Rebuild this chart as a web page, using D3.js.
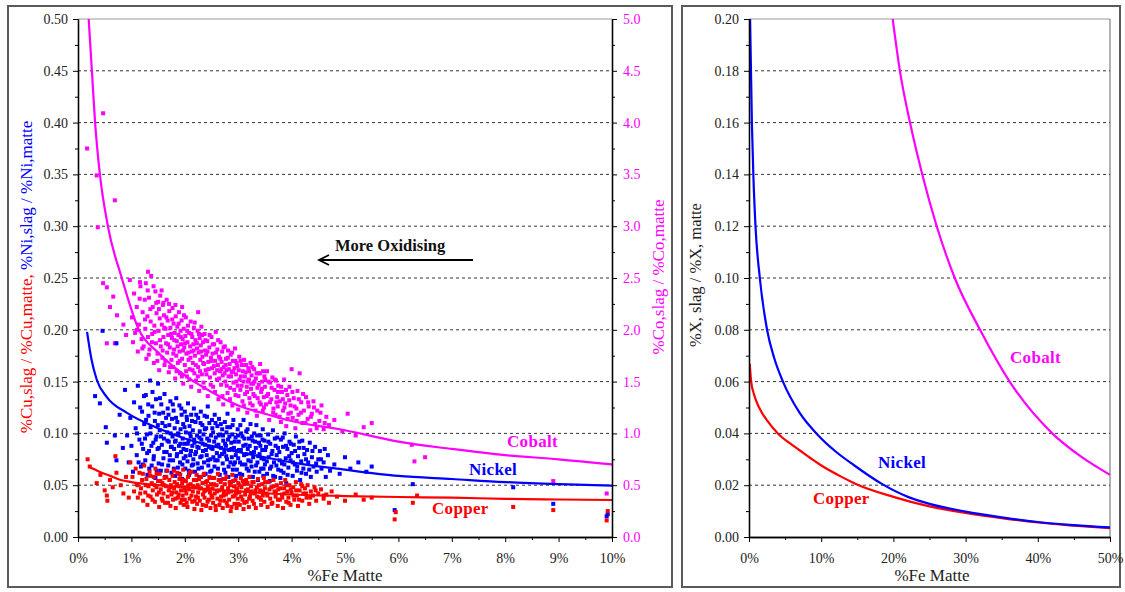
<!DOCTYPE html>
<html><head><meta charset="utf-8">
<script src="https://cdn.jsdelivr.net/npm/d3@7"></script>
<style>
body{margin:0;background:#fff}
svg{display:block}
svg text{font-family:"Liberation Serif","Times New Roman",Tinos,"DejaVu Serif","Noto Serif",serif !important}
</style>
</head><body><svg id="c" width="1125" height="592"></svg>
<script>
// ---------- DATA ----------
const leftYTicks = [0,0.05,0.10,0.15,0.20,0.25,0.30,0.35,0.40,0.45,0.50];
const leftY2Ticks = [0,0.5,1.0,1.5,2.0,2.5,3.0,3.5,4.0,4.5,5.0];
const leftXTicks = [0,1,2,3,4,5,6,7,8,9,10];
const rightYTicks = [0,0.02,0.04,0.06,0.08,0.10,0.12,0.14,0.16,0.18,0.20];
const rightXTicks = [0,10,20,30,40,50];

// left panel model curves (%Fe matte, ratio)
const cuLine = [[0.2,0.068],[0.4,0.063],[0.6,0.059],[0.8,0.055],[1,0.053],[1.5,0.050],[2,0.048],[2.5,0.046],[3,0.044],[4,0.041],[5,0.0395],[6,0.0386],[7,0.038],[8,0.0368],[9,0.0362],[10,0.0357]];
const niLine = [[0.17,0.198],[0.25,0.172],[0.35,0.152],[0.54,0.135],[0.91,0.12],[1.5,0.105],[2,0.095],[2.5,0.088],[3,0.082],[3.5,0.077],[4,0.072],[5,0.065],[6,0.059],[7,0.056],[8,0.053],[9,0.051],[10,0.0495]];
const coLine = [[0.2,5.0],[0.26,4.5],[0.32,4.0],[0.41,3.5],[0.56,3.0],[0.82,2.5],[1.14,2.0],[1.5,1.78],[2,1.56],[2.5,1.4],[3,1.27],[3.5,1.19],[4,1.12],[5,1.03],[6,0.92],[7,0.85],[8,0.79],[9,0.75],[10,0.70]];

// right panel model curves
const cuLineR = [[0.1,0.067],[0.3,0.060],[0.7,0.055],[1.4,0.050],[2.5,0.045],[4,0.040],[5.5,0.0365],[7,0.0335],[8.5,0.0305],[9.8,0.028],[12.5,0.0237],[14.8,0.0205],[20,0.0155],[25,0.0118],[30,0.0093],[35,0.0073],[40,0.0056],[45,0.0044],[50,0.0034]];
const niLineR = [[0.15,0.20],[0.4,0.16],[0.6,0.14],[0.9,0.12],[1.5,0.10],[2.5,0.08],[3.5,0.069],[4.7,0.06],[7,0.048],[9.5,0.0395],[12,0.033],[14.5,0.0278],[18.4,0.0205],[22,0.0155],[25,0.0128],[30,0.0098],[35,0.0076],[40,0.0058],[45,0.0046],[50,0.0037]];
const coLineR = [[19.9,0.20],[20.9,0.18],[22.3,0.16],[24.0,0.14],[26.0,0.12],[28.5,0.10],[32.0,0.08],[36.1,0.06],[42,0.04],[46,0.031],[50,0.024]];

// measured points (%Fe matte, ratio)
const cuPts = [[0.18,0.075],[0.22,0.068],[0.35,0.052],[0.42,0.060],[0.5,0.045],[0.54,0.040],[0.55,0.035],[0.6,0.055],[0.65,0.048],[0.7,0.078],[0.72,0.062],[0.8,0.05],[0.85,0.042],[0.9,0.058],[0.95,0.038],[0.98,0.072],
[1.02,0.058],[1.05,0.044],[1.08,0.066],[1.1,0.051],[1.12,0.038],[1.15,0.062],[1.18,0.047],[1.2,0.055],[1.22,0.035],[1.24,0.069],
[1.26,0.043],[1.28,0.056],[1.3,0.031],[1.32,0.049],[1.34,0.063],[1.36,0.039],[1.38,0.052],[1.4,0.045],[1.42,0.058],[1.44,0.034],[1.45,0.066],[1.47,0.048],[1.48,0.041],[1.5,0.054],
[1.52,0.029],[1.53,0.061],[1.55,0.046],[1.57,0.037],[1.58,0.052],[1.6,0.042],[1.62,0.057],[1.63,0.033],[1.65,0.049],[1.67,0.064],[1.68,0.039],[1.7,0.045],[1.71,0.055],[1.73,0.03],[1.74,0.05],[1.75,0.041],
[1.77,0.059],[1.78,0.036],[1.8,0.047],[1.81,0.053],[1.83,0.028],[1.84,0.043],[1.86,0.062],[1.87,0.038],[1.89,0.049],[1.9,0.056],[1.92,0.033],[1.93,0.045],[1.95,0.052],[1.96,0.04],[1.97,0.065],[1.98,0.031],[1.99,0.048],[2.0,0.036],
[2.02,0.054],[2.03,0.042],[2.05,0.029],[2.06,0.058],[2.08,0.046],[2.09,0.037],[2.11,0.051],[2.12,0.063],[2.14,0.034],[2.15,0.044],[2.17,0.055],[2.18,0.027],[2.2,0.048],[2.21,0.039],[2.22,0.06],[2.23,0.032],[2.24,0.05],[2.25,0.043],
[2.27,0.056],[2.28,0.035],[2.3,0.047],[2.31,0.026],[2.33,0.052],[2.34,0.041],[2.36,0.061],[2.37,0.038],[2.39,0.045],[2.4,0.03],[2.42,0.054],[2.43,0.049],[2.45,0.036],[2.46,0.058],[2.47,0.043],[2.48,0.028],[2.49,0.051],[2.5,0.04],
[2.52,0.047],[2.53,0.033],[2.55,0.057],[2.56,0.042],[2.58,0.026],[2.59,0.05],[2.61,0.037],[2.62,0.061],[2.64,0.045],[2.65,0.031],[2.67,0.053],[2.68,0.039],[2.7,0.048],[2.71,0.028],[2.72,0.056],[2.73,0.043],[2.74,0.035],[2.75,0.051],
[2.77,0.041],[2.78,0.058],[2.8,0.03],[2.81,0.047],[2.83,0.036],[2.84,0.053],[2.86,0.025],[2.87,0.044],[2.89,0.06],[2.9,0.039],[2.92,0.049],[2.93,0.032],[2.95,0.055],[2.96,0.042],[2.97,0.028],[2.98,0.046],[2.99,0.037],[3.0,0.052],
[3.02,0.043],[3.03,0.031],[3.05,0.057],[3.06,0.048],[3.08,0.036],[3.1,0.027],[3.11,0.051],[3.13,0.041],[3.15,0.055],[3.16,0.034],[3.18,0.046],[3.2,0.029],[3.21,0.058],[3.22,0.039],[3.24,0.049],[3.25,0.044],
[3.27,0.035],[3.29,0.053],[3.31,0.042],[3.33,0.028],[3.35,0.048],[3.37,0.056],[3.39,0.038],[3.41,0.045],[3.43,0.031],[3.45,0.051],[3.46,0.04],[3.48,0.057],[3.49,0.034],[3.5,0.047],
[3.53,0.042],[3.55,0.029],[3.57,0.053],[3.6,0.037],[3.62,0.048],[3.64,0.033],[3.66,0.055],[3.68,0.044],[3.7,0.039],[3.72,0.05],[3.74,0.03],[3.75,0.046],
[3.78,0.036],[3.8,0.052],[3.82,0.041],[3.84,0.028],[3.86,0.047],[3.88,0.055],[3.9,0.034],[3.92,0.044],[3.94,0.038],[3.96,0.05],[3.98,0.031],[4.0,0.043],
[4.03,0.048],[4.05,0.036],[4.08,0.053],[4.1,0.04],[4.12,0.03],[4.15,0.045],[4.18,0.051],[4.2,0.035],[4.22,0.042],[4.25,0.047],
[4.28,0.038],[4.3,0.05],[4.33,0.032],[4.36,0.044],[4.4,0.04],[4.43,0.048],[4.46,0.035],[4.5,0.042],
[4.55,0.046],[4.6,0.037],[4.65,0.041],[4.7,0.033],[4.75,0.044],
[4.85,0.039],[5.0,0.035],[5.2,0.041],[5.35,0.036],[5.5,0.038],[5.93,0.017],[5.95,0.024],[6.27,0.033],[6.35,0.04],[8.15,0.029],[8.9,0.026],[9.9,0.016],[9.92,0.025]];
const cuPtsB = [[1.115,0.05],[1.165,0.042],[1.215,0.061],[1.265,0.05],[1.315,0.04],[1.355,0.059],[1.395,0.036],[1.435,0.05],[1.475,0.061],[1.515,0.043],[1.545,0.054],[1.585,0.035],[1.615,0.05],[1.655,0.058],[1.685,0.033],[1.725,0.048],[1.765,0.043],[1.795,0.064],[1.825,0.037],[1.855,0.051],[1.885,0.041],[1.915,0.06],[1.945,0.036],[1.975,0.055],[2.005,0.045],[2.035,0.033],[2.065,0.05],[2.095,0.062],[2.125,0.04],[2.155,0.049],[2.185,0.035],[2.215,0.055],[2.245,0.038],[2.275,0.047],[2.305,0.058],[2.335,0.031],[2.365,0.044],[2.395,0.053],[2.425,0.034],[2.455,0.046],[2.485,0.057],[2.515,0.038],[2.545,0.051],[2.575,0.03],[2.605,0.044],[2.635,0.055],[2.665,0.035],[2.695,0.046],[2.725,0.04],[2.755,0.056],[2.785,0.033],[2.815,0.043],[2.845,0.05],[2.875,0.029],[2.905,0.054],[2.935,0.04],[2.965,0.047],[2.995,0.032],[3.025,0.05],[3.055,0.039],[3.085,0.054],[3.115,0.033],[3.145,0.045],[3.175,0.052],[3.205,0.037],[3.235,0.042],[3.265,0.053],[3.295,0.032],[3.325,0.045],[3.355,0.039],[3.385,0.05],[3.425,0.036],[3.465,0.044],[3.505,0.053],[3.545,0.04],[3.585,0.046],[3.625,0.032],[3.665,0.049],[3.705,0.043],[3.745,0.036],[3.785,0.047],[3.825,0.038],[3.865,0.042],[3.905,0.05],[3.945,0.033],[3.985,0.046],[4.035,0.04],[4.085,0.045],[4.14,0.036],[4.2,0.049],[4.27,0.042],[4.35,0.038],[4.45,0.045],[4.6,0.04]];

const niPts = [[0.32,0.136],[0.41,0.129],[0.46,0.199],[0.52,0.106],[0.54,0.091],[0.69,0.098],[0.72,0.074],[0.72,0.187],[0.78,0.118],[0.84,0.086],[0.88,0.142],
[0.92,0.098],[0.95,0.072],[0.98,0.115],[1.0,0.088],[1.03,0.063],[1.05,0.13],[1.08,0.105],[1.1,0.079],[1.12,0.146],[1.15,0.094],[1.18,0.068],[1.2,0.121],[1.22,0.085],[1.24,0.109],
[1.26,0.074],[1.27,0.137],[1.29,0.099],[1.3,0.06],[1.32,0.117],[1.33,0.083],[1.35,0.151],[1.36,0.106],[1.38,0.069],[1.39,0.126],[1.41,0.091],[1.42,0.078],[1.44,0.112],[1.45,0.057],[1.46,0.133],[1.47,0.097],[1.49,0.085],[1.5,0.148],
[1.51,0.071],[1.52,0.119],[1.53,0.103],[1.55,0.064],[1.56,0.128],[1.57,0.089],[1.58,0.11],[1.6,0.076],[1.61,0.095],[1.62,0.138],[1.63,0.058],[1.65,0.115],[1.66,0.082],[1.67,0.101],[1.68,0.124],[1.69,0.069],[1.7,0.092],[1.71,0.108],[1.72,0.079],[1.73,0.131],[1.74,0.087],[1.75,0.062],
[1.76,0.114],[1.77,0.097],[1.78,0.074],[1.79,0.122],[1.8,0.085],[1.81,0.105],[1.82,0.059],[1.83,0.093],[1.84,0.134],[1.85,0.078],[1.86,0.111],[1.87,0.067],[1.88,0.099],[1.89,0.088],[1.9,0.127],[1.91,0.072],[1.92,0.104],[1.93,0.082],[1.94,0.118],[1.95,0.056],[1.96,0.095],[1.97,0.109],[1.98,0.076],[1.99,0.09],
[2.0,0.121],[2.01,0.066],[2.02,0.101],[2.03,0.084],[2.04,0.113],[2.05,0.073],[2.06,0.129],[2.07,0.093],[2.08,0.06],[2.09,0.107],[2.1,0.079],[2.11,0.097],[2.12,0.118],[2.13,0.069],[2.14,0.088],[2.15,0.103],[2.16,0.075],[2.17,0.124],[2.18,0.091],[2.19,0.063],[2.2,0.111],[2.21,0.082],[2.23,0.098],[2.24,0.071],
[2.25,0.115],[2.26,0.086],[2.27,0.058],[2.28,0.102],[2.29,0.077],[2.3,0.121],[2.31,0.094],[2.32,0.067],[2.33,0.108],[2.34,0.083],[2.35,0.099],[2.36,0.072],[2.37,0.117],[2.38,0.089],[2.39,0.061],[2.4,0.105],[2.41,0.079],[2.42,0.095],[2.43,0.126],[2.44,0.069],[2.45,0.087],[2.46,0.11],[2.48,0.075],[2.49,0.098],
[2.5,0.064],[2.51,0.113],[2.52,0.085],[2.53,0.101],[2.54,0.057],[2.55,0.092],[2.56,0.118],[2.57,0.074],[2.58,0.096],[2.6,0.081],[2.61,0.107],[2.62,0.066],[2.63,0.089],[2.64,0.114],[2.65,0.078],[2.66,0.099],[2.67,0.055],[2.68,0.086],[2.7,0.104],[2.71,0.071],[2.72,0.093],[2.74,0.082],
[2.75,0.111],[2.76,0.062],[2.77,0.088],[2.78,0.101],[2.79,0.075],[2.8,0.119],[2.81,0.094],[2.82,0.068],[2.83,0.084],[2.85,0.106],[2.86,0.053],[2.87,0.091],[2.88,0.077],[2.89,0.099],[2.9,0.065],[2.91,0.113],[2.92,0.086],[2.94,0.072],[2.95,0.096],[2.96,0.059],[2.98,0.083],[2.99,0.104],
[3.0,0.076],[3.01,0.092],[3.03,0.061],[3.04,0.108],[3.05,0.084],[3.07,0.07],[3.08,0.097],[3.1,0.113],[3.11,0.079],[3.12,0.054],[3.14,0.089],[3.15,0.102],[3.16,0.066],[3.18,0.085],[3.19,0.074],[3.2,0.095],[3.22,0.058],[3.23,0.109],[3.24,0.081],[3.25,0.068],
[3.27,0.093],[3.28,0.077],[3.3,0.1],[3.31,0.063],[3.33,0.086],[3.34,0.108],[3.36,0.072],[3.37,0.055],[3.39,0.091],[3.4,0.08],[3.42,0.098],[3.43,0.066],[3.45,0.084],[3.46,0.104],[3.47,0.059],[3.48,0.075],[3.49,0.093],[3.5,0.07],
[3.52,0.087],[3.54,0.061],[3.56,0.099],[3.57,0.077],[3.59,0.054],[3.6,0.09],[3.62,0.068],[3.64,0.083],[3.65,0.103],[3.67,0.072],[3.69,0.058],[3.7,0.088],[3.72,0.079],[3.73,0.096],[3.75,0.065],
[3.77,0.082],[3.79,0.057],[3.8,0.094],[3.82,0.071],[3.84,0.087],[3.85,0.062],[3.87,0.1],[3.89,0.076],[3.9,0.052],[3.92,0.085],[3.94,0.067],[3.96,0.092],[3.98,0.074],[4.0,0.081],
[4.02,0.059],[4.04,0.089],[4.06,0.07],[4.08,0.097],[4.1,0.064],[4.12,0.078],[4.14,0.086],[4.16,0.055],[4.18,0.073],[4.2,0.093],[4.22,0.066],[4.24,0.08],
[4.27,0.061],[4.29,0.084],[4.31,0.072],[4.34,0.091],[4.36,0.058],[4.38,0.077],[4.41,0.068],[4.44,0.087],[4.47,0.063],[4.5,0.075],
[4.53,0.083],[4.56,0.066],[4.6,0.072],[4.64,0.058],[4.68,0.079],[4.72,0.064],
[4.8,0.07],[4.9,0.061],[5.0,0.077],[5.1,0.066],[5.25,0.072],[5.4,0.063],[5.5,0.068],[5.93,0.026],[6.27,0.051],[8.15,0.048],[8.9,0.032],[9.9,0.020],[9.92,0.022]];
const niPtsB = [[1.105,0.1],[1.135,0.072],[1.165,0.125],[1.195,0.09],[1.215,0.07],[1.235,0.136],[1.255,0.095],[1.275,0.113],[1.295,0.081],[1.315,0.128],[1.335,0.066],[1.355,0.1],[1.375,0.088],[1.395,0.14],[1.415,0.075],[1.435,0.12],[1.455,0.094],[1.475,0.064],[1.495,0.108],[1.515,0.086],[1.535,0.134],[1.555,0.097],[1.575,0.07],[1.595,0.12],[1.615,0.082],[1.635,0.107],[1.655,0.064],[1.675,0.093],[1.695,0.118],[1.715,0.074],[1.735,0.1],[1.755,0.087],[1.775,0.128],[1.795,0.066],[1.815,0.092],[1.835,0.115],[1.855,0.08],[1.875,0.1],[1.895,0.061],[1.915,0.09],[1.935,0.124],[1.955,0.07],[1.975,0.085],[1.995,0.106],[2.015,0.078],[2.035,0.116],[2.055,0.09],[2.075,0.064],[2.095,0.1],[2.115,0.083],[2.135,0.112],[2.155,0.07],[2.175,0.094],[2.195,0.08],[2.215,0.118],[2.235,0.087],[2.255,0.066],[2.275,0.096],[2.295,0.11],[2.315,0.078],[2.335,0.09],[2.355,0.06],[2.375,0.104],[2.395,0.084],[2.415,0.116],[2.435,0.074],[2.455,0.093],[2.475,0.063],[2.495,0.086],[2.515,0.105],[2.535,0.077],[2.555,0.068],[2.575,0.11],[2.595,0.088],[2.615,0.074],[2.635,0.098],[2.655,0.06],[2.675,0.109],[2.695,0.08],[2.715,0.098],[2.735,0.065],[2.755,0.09],[2.775,0.078],[2.795,0.106],[2.815,0.058],[2.835,0.097],[2.855,0.072],[2.875,0.085],[2.895,0.108],[2.915,0.07],[2.935,0.092],[2.955,0.079],[2.975,0.065],[2.995,0.098],[3.015,0.084],[3.035,0.072],[3.055,0.1],[3.075,0.06],[3.095,0.088],[3.115,0.095],[3.135,0.07],[3.155,0.08],[3.175,0.104],[3.195,0.064],[3.215,0.088],[3.235,0.073],[3.255,0.097],[3.275,0.058],[3.295,0.082],[3.315,0.092],[3.335,0.069],[3.355,0.098],[3.375,0.078],[3.395,0.063],[3.415,0.088],[3.435,0.076],[3.455,0.094],[3.475,0.066],[3.505,0.084],[3.535,0.073],[3.565,0.092],[3.595,0.066],[3.625,0.08],[3.655,0.059],[3.685,0.095],[3.715,0.069],[3.745,0.086],[3.775,0.074],[3.805,0.064],[3.835,0.096],[3.865,0.07],[3.895,0.088],[3.925,0.06],[3.955,0.078],[3.985,0.09],[4.025,0.072],[4.065,0.083],[4.105,0.068],[4.145,0.092],[4.185,0.062],[4.225,0.086],[4.27,0.075],[4.33,0.065],[4.39,0.083],[4.46,0.071],[4.55,0.075],[4.62,0.085]];

// cobalt points on secondary axis (0-5)
const coPts = [[0.17,3.75],[0.47,4.09],[0.35,3.49],[0.69,3.25],[0.37,2.99],[0.47,2.45],[0.54,2.41],[0.66,2.32],[0.6,2.22],[0.73,2.14],[0.54,1.87],[0.69,1.87],[0.97,2.48],[1.16,2.46],[1.31,2.56],[1.6,2.26],[1.95,2.22],[2.25,2.17],[0.85,2.05],[0.9,1.95],
[1.01,2.12],[1.03,1.88],[1.05,2.35],[1.07,1.97],[1.1,2.22],[1.12,1.79],[1.14,2.05],[1.17,2.42],[1.19,1.91],[1.21,2.17],[1.23,1.84],[1.25,2.29],
[1.26,2.01],[1.27,2.45],[1.28,1.72],[1.3,2.13],[1.31,1.93],[1.33,2.31],[1.34,1.81],[1.36,2.08],[1.37,2.52],[1.39,1.96],[1.4,2.22],[1.42,1.68],[1.43,2.04],[1.45,2.37],[1.46,1.87],[1.47,2.16],[1.49,1.77],[1.5,2.27],
[1.51,1.99],[1.52,1.61],[1.53,2.11],[1.54,2.33],[1.55,1.84],[1.57,2.05],[1.58,1.73],[1.59,2.24],[1.6,1.93],[1.61,2.14],[1.62,1.66],[1.64,2.01],[1.65,1.87],[1.66,2.29],[1.67,1.78],[1.68,2.09],[1.69,1.95],[1.7,1.59],[1.71,2.18],[1.72,1.83],[1.73,2.02],[1.75,1.71],
[1.76,1.92],[1.77,2.21],[1.78,1.64],[1.79,2.06],[1.8,1.81],[1.81,1.97],[1.82,1.53],[1.83,2.13],[1.84,1.75],[1.85,1.89],[1.86,2.03],[1.87,1.68],[1.88,1.95],[1.89,2.17],[1.9,1.79],[1.91,1.58],[1.92,1.99],[1.93,1.86],[1.94,2.09],[1.95,1.72],[1.96,1.91],[1.97,1.48],[1.98,2.01],[1.99,1.83],
[2.0,1.66],[2.01,1.94],[2.02,2.12],[2.03,1.77],[2.04,1.55],[2.05,1.88],[2.06,2.04],[2.07,1.71],[2.08,1.97],[2.09,1.62],[2.1,1.84],[2.11,2.08],[2.12,1.45],[2.13,1.79],[2.14,1.93],[2.15,1.68],[2.16,1.86],[2.17,2.02],[2.18,1.58],[2.19,1.75],[2.2,1.9],[2.21,1.51],[2.23,1.82],[2.24,1.99],
[2.25,1.64],[2.26,1.78],[2.27,1.41],[2.28,1.92],[2.29,1.71],[2.3,1.85],[2.31,2.03],[2.32,1.57],[2.33,1.74],[2.34,1.88],[2.35,1.49],[2.36,1.67],[2.37,1.96],[2.38,1.8],[2.39,1.61],[2.4,1.76],[2.42,1.89],[2.43,1.36],[2.44,1.69],[2.46,1.83],[2.47,1.54],[2.49,1.73],
[2.5,1.93],[2.51,1.63],[2.52,1.77],[2.53,1.45],[2.55,1.86],[2.56,1.58],[2.57,1.7],[2.58,1.98],[2.6,1.52],[2.61,1.81],[2.62,1.66],[2.63,1.33],[2.64,1.74],[2.66,1.6],[2.67,1.88],[2.68,1.47],[2.69,1.69],[2.7,1.79],[2.71,1.56],[2.72,1.28],[2.73,1.64],[2.75,1.84],
[2.76,1.5],[2.77,1.72],[2.78,1.61],[2.8,1.39],[2.81,1.8],[2.82,1.55],[2.84,1.67],[2.85,1.44],[2.86,1.76],[2.88,1.59],[2.89,1.27],[2.9,1.7],[2.91,1.49],[2.93,1.63],[2.94,1.82],[2.95,1.37],[2.96,1.57],[2.97,1.68],[2.99,1.46],[3.0,1.23],
[3.01,1.61],[3.02,1.74],[3.04,1.42],[3.05,1.55],[3.07,1.66],[3.08,1.31],[3.1,1.5],[3.11,1.71],[3.13,1.38],[3.14,1.59],[3.16,1.45],[3.17,1.2],[3.19,1.63],[3.2,1.52],[3.21,1.34],[3.23,1.68],[3.24,1.43],[3.25,1.56],
[3.27,1.27],[3.28,1.48],[3.3,1.62],[3.31,1.36],[3.33,1.53],[3.35,1.17],[3.36,1.44],[3.38,1.58],[3.4,1.3],[3.41,1.67],[3.43,1.4],[3.45,1.5],[3.46,1.22],[3.48,1.35],[3.49,1.55],[3.5,1.45],
[3.52,1.28],[3.54,1.6],[3.56,1.38],[3.58,1.13],[3.6,1.49],[3.62,1.33],[3.64,1.54],[3.66,1.24],[3.68,1.42],[3.7,1.18],[3.71,1.51],[3.73,1.35],[3.74,1.26],[3.75,1.46],
[3.78,1.31],[3.8,1.11],[3.82,1.4],[3.84,1.22],[3.86,1.52],[3.88,1.29],[3.9,1.07],[3.92,1.37],[3.94,1.19],[3.96,1.45],[3.98,1.27],[4.0,1.62],
[4.02,1.15],[4.04,1.34],[4.07,1.05],[4.09,1.24],[4.11,1.41],[4.13,1.18],[4.15,1.58],[4.18,1.3],[4.2,1.1],[4.23,1.22],
[4.27,1.35],[4.3,1.14],[4.32,1.26],[4.35,1.03],[4.38,1.19],[4.41,1.31],[4.44,1.09],[4.48,1.22],
[4.52,1.12],[4.56,1.27],[4.6,1.04],[4.65,1.16],[4.7,1.08],
[4.8,1.13],[4.95,1.02],[5.05,1.19],[5.2,0.98],[5.35,1.06],[5.5,1.1],[6.25,0.89],[6.3,0.73],[6.5,0.77],[8.9,0.54],[9.9,0.42]];
const coPtsB = [[1.105,2.0],[1.155,2.3],[1.205,1.82],[1.255,2.1],[1.305,2.38],[1.325,1.76],[1.355,2.2],[1.385,1.88],[1.415,2.42],[1.435,1.98],[1.465,2.26],[1.485,1.7],[1.515,2.2],[1.535,1.9],[1.565,2.38],[1.585,1.8],[1.615,2.02],[1.635,1.7],[1.655,2.12],[1.685,1.86],[1.705,2.25],[1.725,1.64],[1.745,1.96],[1.765,2.1],[1.785,1.77],[1.805,1.9],[1.825,2.24],[1.845,1.6],[1.865,1.84],[1.885,2.06],[1.905,1.7],[1.925,1.93],[1.945,1.55],[1.965,1.8],[1.985,2.14],[2.005,1.87],[2.025,1.6],[2.045,1.99],[2.065,1.78],[2.085,1.52],[2.105,1.73],[2.125,1.96],[2.145,1.61],[2.165,1.8],[2.185,2.07],[2.205,1.66],[2.225,1.87],[2.245,1.55],[2.265,1.96],[2.285,1.6],[2.305,1.79],[2.325,1.95],[2.345,1.68],[2.365,1.44],[2.385,1.9],[2.405,1.57],[2.425,1.79],[2.445,1.62],[2.465,1.95],[2.485,1.47],[2.505,1.7],[2.525,1.86],[2.545,1.65],[2.565,1.4],[2.585,1.78],[2.605,1.61],[2.625,1.9],[2.645,1.53],[2.665,1.72],[2.685,1.62],[2.705,1.36],[2.725,1.83],[2.745,1.58],[2.765,1.66],[2.785,1.46],[2.805,1.73],[2.825,1.62],[2.845,1.33],[2.865,1.55],[2.885,1.78],[2.905,1.6],[2.925,1.42],[2.945,1.7],[2.965,1.5],[2.985,1.65],[3.005,1.36],[3.025,1.52],[3.045,1.7],[3.065,1.46],[3.085,1.6],[3.105,1.27],[3.125,1.55],[3.145,1.66],[3.165,1.4],[3.185,1.5],[3.205,1.6],[3.225,1.29],[3.245,1.48],[3.265,1.64],[3.285,1.38],[3.305,1.5],[3.325,1.22],[3.345,1.58],[3.365,1.34],[3.385,1.47],[3.405,1.58],[3.425,1.28],[3.445,1.43],[3.465,1.6],[3.485,1.25],[3.505,1.52],[3.535,1.36],[3.565,1.5],[3.595,1.3],[3.625,1.44],[3.655,1.2],[3.685,1.52],[3.715,1.3],[3.745,1.4],[3.775,1.16],[3.805,1.45],[3.835,1.33],[3.865,1.25],[3.895,1.42],[3.925,1.14],[3.955,1.32],[3.985,1.2],[4.015,1.4],[4.055,1.26],[4.095,1.12],[4.135,1.33],[4.175,1.2],[4.215,1.38],[4.26,1.1],[4.31,1.3],[4.36,1.16],[4.42,1.25],[4.47,1.05],[4.54,1.2],[4.62,1.1]];

const RED = "#ff0000", BLUE = "#0000ff", MAG = "#ff00ff";
const FONT = "'Liberation Serif','Times New Roman',Tinos,'DejaVu Serif',serif";

// ---------- DRAW ----------
const svg = d3.select("#c");
svg.append("rect").attr("width",1125).attr("height",592).attr("fill","#fff");

svg.append("rect").attr("x",8).attr("y",6).attr("width",664).attr("height",581)
  .attr("fill","none").attr("stroke","#5a5a5a").attr("stroke-width",2);
svg.append("rect").attr("x",682).attr("y",6).attr("width",438).attr("height",581)
  .attr("fill","none").attr("stroke","#5a5a5a").attr("stroke-width",2);

const xL = d3.scaleLinear([0,10],[78,612]);
const yL = d3.scaleLinear([0,0.5],[537,19]);
const yL2 = d3.scaleLinear([0,5],[537,19]);
const xR = d3.scaleLinear([0,50],[749,1110]);
const yR = d3.scaleLinear([0,0.2],[537,19]);

function grid(g, xs, ys, vals){
  g.selectAll("line.grid").data(vals).join("line").attr("class","grid")
    .attr("x1",xs.range()[0]).attr("x2",xs.range()[1])
    .attr("y1",d=>ys(d)).attr("y2",d=>ys(d))
    .attr("stroke","#333").attr("stroke-width",1).attr("stroke-dasharray","3,3");
}
function styleAxis(sel, color){
  sel.attr("font-family",FONT);
  sel.selectAll("path.domain").attr("stroke","#000").attr("stroke-width",1.3);
  sel.selectAll(".tick line").attr("stroke","#000").attr("stroke-width",1);
  sel.selectAll("text").attr("fill",color).attr("font-family",FONT).attr("font-size",14);
}
function minorTicks(axisFn, scale, vals){
  return axisFn(scale).tickValues(vals).tickSize(3).tickSizeOuter(0).tickFormat("");
}

// ======= LEFT PANEL =======
const gL = svg.append("g").attr("font-family",FONT);
gL.append("line").attr("x1",78).attr("x2",612).attr("y1",19).attr("y2",19).attr("stroke","#999").attr("stroke-width",1);
grid(gL, xL, yL, leftYTicks.slice(1,-1));

svg.append("clipPath").attr("id","clipL").append("rect").attr("x",78).attr("y",19).attr("width",534).attr("height",518);
const pL = gL.append("g").attr("clip-path","url(#clipL)");

const ms = 4;
function pts(g, data, xs, ys, color){
  g.append("g").selectAll("rect").data(data).join("rect")
    .attr("x",d=>xs(d[0])-ms/2).attr("y",d=>ys(d[1])-ms/2)
    .attr("width",ms).attr("height",ms).attr("fill",color);
}
pts(pL, coPts.concat(coPtsB), xL, yL2, MAG);
pts(pL, niPts.concat(niPtsB), xL, yL, BLUE);
pts(pL, cuPts.concat(cuPtsB), xL, yL, RED);

function line(g, data, xs, ys, color){
  g.append("path").datum(data)
    .attr("d", d3.line().x(d=>xs(d[0])).y(d=>ys(d[1])).curve(d3.curveMonotoneX))
    .attr("fill","none").attr("stroke",color).attr("stroke-width",2.2);
}
line(pL, coLine, xL, yL2, MAG);
line(pL, niLine, xL, yL, BLUE);
line(pL, cuLine, xL, yL, RED);

const minorLY = d3.range(0.025,0.5,0.05);
const minorLY2 = d3.range(0.25,5,0.5);
const minorLX = d3.range(0.5,10,1);
gL.append("g").attr("transform","translate(78,0)").call(minorTicks(d3.axisLeft, yL, minorLY)).call(s=>styleAxis(s,"#222"));
gL.append("g").attr("transform","translate(78,0)")
  .call(d3.axisLeft(yL).tickValues(leftYTicks).tickSize(5).tickSizeOuter(0).tickPadding(5).tickFormat(d3.format(".2f")))
  .call(s=>styleAxis(s,"#222"));
gL.append("g").attr("transform","translate(612,0)").call(minorTicks(d3.axisRight, yL2, minorLY2)).call(s=>styleAxis(s,MAG));
gL.append("g").attr("transform","translate(612,0)")
  .call(d3.axisRight(yL2).tickValues(leftY2Ticks).tickSize(5).tickSizeOuter(0).tickPadding(6).tickFormat(d3.format(".1f")))
  .call(s=>styleAxis(s,MAG));
gL.append("g").attr("transform","translate(0,537)").call(minorTicks(d3.axisBottom, xL, minorLX)).call(s=>styleAxis(s,"#222"));
gL.append("g").attr("transform","translate(0,537)")
  .call(d3.axisBottom(xL).tickValues(leftXTicks).tickSize(5).tickSizeOuter(0).tickPadding(11).tickFormat(d=>d+"%"))
  .call(s=>styleAxis(s,"#222"));

gL.append("text").attr("x",345).attr("y",581).attr("text-anchor","middle").attr("font-size",17).attr("fill","#222").text("%Fe Matte");
const yt = gL.append("text").attr("transform","translate(32,277) rotate(-90)").attr("text-anchor","middle").attr("font-size",17);
yt.append("tspan").attr("fill",RED).text("%Cu,slag / %Cu,matte, ");
yt.append("tspan").attr("fill",BLUE).text(" %Ni,slag / %Ni,matte");
gL.append("text").attr("transform","translate(664,277) rotate(-90)").attr("text-anchor","middle").attr("font-size",17).attr("fill",MAG).text("%Co,slag / %Co,matte");

const lab = (g,x,y,t,c)=>g.append("text").attr("x",x).attr("y",y).attr("font-size",17).attr("font-weight","bold").attr("fill",c).attr("letter-spacing",0.3).text(t);
lab(gL,507,447,"Cobalt",MAG);
lab(gL,469,475,"Nickel",BLUE);
lab(gL,432,514,"Copper",RED);

lab(gL,335,251,"More Oxidising","#111").attr("font-size",16.5).attr("letter-spacing",0);
gL.append("line").attr("x1",473).attr("x2",319).attr("y1",260).attr("y2",260).attr("stroke","#000").attr("stroke-width",1.8);
gL.append("path").attr("d","M329,255 L319,260 L329,265").attr("fill","none").attr("stroke","#000").attr("stroke-width",1.8);

// ======= RIGHT PANEL =======
const gR = svg.append("g").attr("font-family",FONT);
gR.append("line").attr("x1",749).attr("x2",1110).attr("y1",19).attr("y2",19).attr("stroke","#999").attr("stroke-width",1);
gR.append("line").attr("x1",1110).attr("x2",1110).attr("y1",19).attr("y2",537).attr("stroke","#999").attr("stroke-width",1.5);
grid(gR, xR, yR, rightYTicks.slice(1,-1));

svg.append("clipPath").attr("id","clipR").append("rect").attr("x",749).attr("y",18).attr("width",362).attr("height",520);
const pR = gR.append("g").attr("clip-path","url(#clipR)");
line(pR, coLineR, xR, yR, MAG);
line(pR, cuLineR, xR, yR, RED);
line(pR, niLineR, xR, yR, BLUE);

const minorRY = d3.range(0.01,0.2,0.02);
const minorRX = d3.range(5,50,10);
gR.append("g").attr("transform","translate(749,0)").call(minorTicks(d3.axisLeft, yR, minorRY)).call(s=>styleAxis(s,"#222"));
gR.append("g").attr("transform","translate(749,0)")
  .call(d3.axisLeft(yR).tickValues(rightYTicks).tickSize(5).tickSizeOuter(0).tickPadding(5).tickFormat(d3.format(".2f")))
  .call(s=>styleAxis(s,"#222"));
gR.append("g").attr("transform","translate(0,537)").call(minorTicks(d3.axisBottom, xR, minorRX)).call(s=>styleAxis(s,"#222"));
gR.append("g").attr("transform","translate(0,537)")
  .call(d3.axisBottom(xR).tickValues(rightXTicks).tickSize(5).tickSizeOuter(0).tickPadding(11).tickFormat(d=>d+"%"))
  .call(s=>styleAxis(s,"#222"));

gR.append("text").attr("x",932).attr("y",581).attr("text-anchor","middle").attr("font-size",17).attr("fill","#222").text("%Fe Matte");
gR.append("text").attr("transform","translate(701,275) rotate(-90)").attr("text-anchor","middle").attr("font-size",16.5).attr("fill","#222").text("%X, slag / %X, matte");

lab(gR,1010,363,"Cobalt",MAG);
lab(gR,878,468,"Nickel",BLUE);
lab(gR,813,504,"Copper",RED);
</script></body></html>
